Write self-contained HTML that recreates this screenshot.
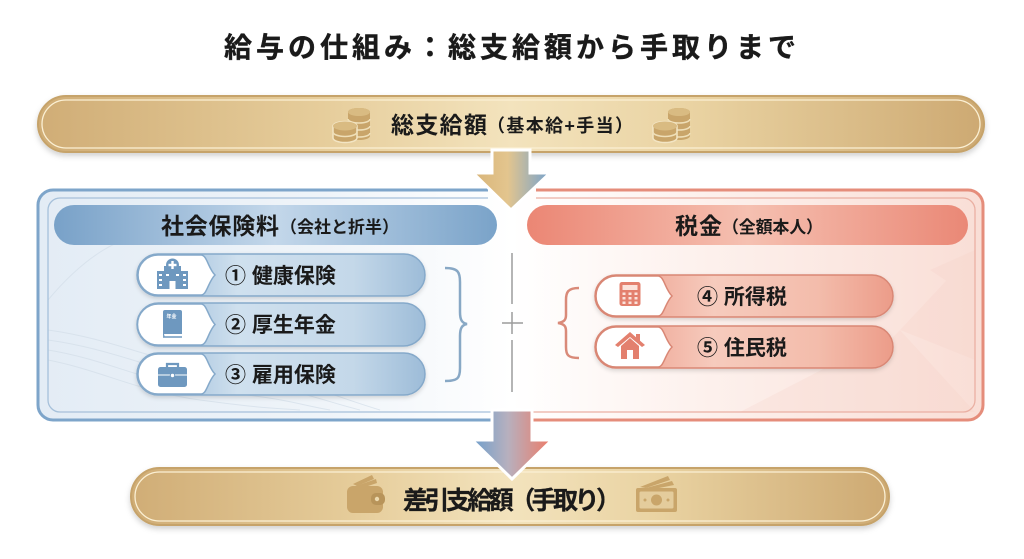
<!DOCTYPE html>
<html><head><meta charset="utf-8"><style>
html,body{margin:0;padding:0;background:#fff;width:1024px;height:559px;overflow:hidden}
svg{display:block}
text{font-family:"Liberation Sans","Noto Sans CJK JP",sans-serif;font-weight:bold;fill:#1a1a1a}
</style></head><body>
<svg width="1024" height="559" viewBox="0 0 1024 559" xmlns="http://www.w3.org/2000/svg">
<defs>
 <linearGradient id="gold" x1="0" x2="1" y1="0" y2="0">
  <stop offset="0" stop-color="#d0ad76"/><stop offset="0.3" stop-color="#e6cd9b"/><stop offset="0.5" stop-color="#f3e3bd"/><stop offset="0.7" stop-color="#e9d2a1"/><stop offset="1" stop-color="#cda972"/>
 </linearGradient>
 <linearGradient id="bluehead" x1="0" x2="1">
  <stop offset="0" stop-color="#78a1c8"/><stop offset="0.5" stop-color="#c3d7ea"/><stop offset="1" stop-color="#7aa3c9"/>
 </linearGradient>
 <linearGradient id="redhead" x1="0" x2="1">
  <stop offset="0" stop-color="#eb8674"/><stop offset="0.5" stop-color="#f5c0b1"/><stop offset="1" stop-color="#ea8876"/>
 </linearGradient>
 <linearGradient id="blueitem" x1="0" x2="1">
  <stop offset="0" stop-color="#8cb1d3"/><stop offset="0.35" stop-color="#cfe0ee"/><stop offset="0.75" stop-color="#c4d8e9"/><stop offset="1" stop-color="#9dbcd8"/>
 </linearGradient>
 <linearGradient id="reditem" x1="0" x2="1">
  <stop offset="0" stop-color="#ec9482"/><stop offset="0.4" stop-color="#f6cbbd"/><stop offset="0.75" stop-color="#f3bcab"/><stop offset="1" stop-color="#ec9c89"/>
 </linearGradient>
 <linearGradient id="leftbg" x1="0" x2="1">
  <stop offset="0" stop-color="#e3ecf5"/><stop offset="0.6" stop-color="#eff4f9"/><stop offset="1" stop-color="#ffffff"/>
 </linearGradient>
 <linearGradient id="rightbg" x1="0" x2="1">
  <stop offset="0" stop-color="#ffffff"/><stop offset="0.4" stop-color="#fdf1ed"/><stop offset="1" stop-color="#f9ded6"/>
 </linearGradient>
 <linearGradient id="arr1" x1="0" x2="1">
  <stop offset="0" stop-color="#d8b478"/><stop offset="0.45" stop-color="#e3c58e"/><stop offset="1" stop-color="#76a2cd"/>
 </linearGradient>
 <linearGradient id="arr2" x1="0" x2="1">
  <stop offset="0" stop-color="#6f9fcc"/><stop offset="0.45" stop-color="#b7b0be"/><stop offset="1" stop-color="#ee7a66"/>
 </linearGradient>
 <filter id="sh" x="-5%" y="-30%" width="110%" height="170%">
  <feDropShadow dx="0" dy="3" stdDeviation="3" flood-color="#000" flood-opacity="0.18"/>
 </filter>
 <filter id="sh2" x="-5%" y="-30%" width="110%" height="170%">
  <feDropShadow dx="0" dy="2" stdDeviation="2" flood-color="#000" flood-opacity="0.15"/>
 </filter>
 <g id="coins">
  <path d="M15 5 a11 4 0 0 1 22 0 v24 a11 4 0 0 1 -22 0 z" fill="#c9a56a"/>
  <path d="M15 12 a11 4 0 0 0 22 0 M15 19 a11 4 0 0 0 22 0 M15 26 a11 4 0 0 0 22 0" stroke="#efdfb8" stroke-width="1.6" fill="none"/>
  <ellipse cx="26" cy="5" rx="11" ry="4" fill="#d9bb82"/>
  <path d="M0 19 a12 4.5 0 0 1 24 0 v12 a12 4.5 0 0 1 -24 0 z" fill="#c9a56a" stroke="#f3e5c4" stroke-width="1.5"/>
  <path d="M0 25 a12 4.5 0 0 0 24 0" stroke="#efdfb8" stroke-width="1.6" fill="none"/>
  <ellipse cx="12" cy="19" rx="12" ry="4.5" fill="#d9bb82"/>
 </g>
</defs>

<!-- Title -->
<text x="224" y="57" font-size="28" textLength="572" stroke="#1a1a1a" stroke-width="0.4">給与の仕組み：総支給額から手取りまで</text>

<!-- Top gold bar -->
<rect x="38" y="96" width="946" height="56" rx="28" fill="url(#gold)" stroke="#c6a36a" stroke-width="2" filter="url(#sh)"/>
<rect x="42" y="100" width="938" height="48" rx="24" fill="none" stroke="#fbf0d4" stroke-width="1.3"/>
<use href="#coins" x="333" y="107"/>
<use href="#coins" x="653" y="107"/>
<text x="391" y="133" font-size="23" textLength="96">総支給額</text>
<text x="487" y="132" font-size="18" textLength="146">（基本給+手当）</text>

<!-- Panels background -->
<path d="M512 190 H53 A15 15 0 0 0 38 205 V405 A15 15 0 0 0 53 420 H512 Z" fill="url(#leftbg)"/>
<path d="M512 190 H968 A15 15 0 0 1 983 205 V405 A15 15 0 0 1 968 420 H512 Z" fill="url(#rightbg)"/>
<!-- faint waves left -->
<g fill="none" stroke="#d3dee9" stroke-width="1" opacity="0.7">
 <path d="M48 330 C120 340 160 365 230 372 S330 395 380 410"/>
 <path d="M48 340 C120 350 160 375 230 382 S320 400 360 410"/>
 <path d="M48 350 C110 360 150 385 220 392 S300 405 330 410"/>
 <path d="M48 360 C100 370 140 392 200 400 S270 408 300 410"/>
 <path d="M48 300 C90 250 120 240 150 230"/>
</g>
<!-- facets right -->
<g fill="#f6cfc4" opacity="0.22">
 <polygon points="975,250 900,330 975,360"/>
 <polygon points="900,330 820,412 975,412"/>
 <polygon points="740,412 860,350 900,412"/>
 <polygon points="930,270 975,300 975,250"/>
</g>

<!-- Panel borders -->
<path d="M488 190 H53 A15 15 0 0 0 38 205 V405 A15 15 0 0 0 53 420 H492" fill="none" stroke="#7ea5ca" stroke-width="3"/>
<path d="M488 198 H60 A12 12 0 0 0 48 210 V400 A12 12 0 0 0 60 412 H492" fill="none" stroke="#a6c0da" stroke-width="1.3"/>
<path d="M536 190 H968 A15 15 0 0 1 983 205 V405 A15 15 0 0 1 968 420 H532" fill="none" stroke="#e58d7b" stroke-width="3"/>
<path d="M536 198 H963 A12 12 0 0 1 975 210 V400 A12 12 0 0 1 963 412 H532" fill="none" stroke="#eab0a3" stroke-width="1.3"/>

<!-- Headers -->
<rect x="54" y="205" width="443" height="40" rx="20" fill="url(#bluehead)"/>
<text x="161" y="234" font-size="23" textLength="118">社会保険料</text>
<text x="280" y="233" font-size="17" textLength="119">（会社と折半）</text>
<rect x="527" y="205" width="441" height="40" rx="20" fill="url(#redhead)"/>
<text x="675" y="234" font-size="23" textLength="47">税金</text>
<text x="722" y="233" font-size="17" textLength="101">（全額本人）</text>

<!-- Arrow 1 -->
<polygon points="492,150 530,150 530,173 550,173 511,210 473,173 492,173" fill="url(#arr1)" stroke="#fff" stroke-width="3" stroke-linejoin="miter"/>

<!-- Center divider -->
<g stroke="#9c9c9c" stroke-width="1.5">
 <line x1="512" y1="253" x2="512" y2="304"/>
 <line x1="512" y1="312" x2="512" y2="334"/>
 <line x1="502" y1="323" x2="523" y2="323"/>
 <line x1="512" y1="340" x2="512" y2="392"/>
</g>

<!-- Blue items -->
<g filter="url(#sh2)">
 <rect x="137" y="254" width="288" height="42" rx="21" fill="url(#blueitem)" stroke="#85a9ca" stroke-width="1.5"/>
 <rect x="137" y="303" width="288" height="43" rx="21.5" fill="url(#blueitem)" stroke="#85a9ca" stroke-width="1.5"/>
 <rect x="137" y="353" width="288" height="42" rx="21" fill="url(#blueitem)" stroke="#85a9ca" stroke-width="1.5"/>
</g>
<g fill="#fff" stroke="#85a9ca" stroke-width="1.5">
 <path d="M158 255 H201 C207 255 208 268 215 275 C208 282 207 295 201 295 H158 A20 20 0 0 1 158 255 Z"/>
 <path d="M158 304 H201 C207 304 208 317 215 324.5 C208 332 207 345 201 345 H158 A20.5 20.5 0 0 1 158 304 Z"/>
 <path d="M158 354 H201 C207 354 208 367 215 374 C208 381 207 394 201 394 H158 A20 20 0 0 1 158 354 Z"/>
</g>
<!-- hospital -->
<g fill="#6e98bf">
 <rect x="164" y="266" width="17" height="23"/>
 <rect x="157" y="271" width="8" height="18"/>
 <rect x="180" y="271" width="8" height="18"/>
 <circle cx="172.5" cy="265" r="6.5"/>
</g>
<g fill="#fff">
 <rect x="171.3" y="261" width="2.4" height="8"/><rect x="168.5" y="263.8" width="8" height="2.4"/>
 <rect x="169.5" y="281" width="6" height="8"/>
 <rect x="159" y="274" width="3" height="2"/><rect x="159" y="279" width="3" height="2"/><rect x="159" y="284" width="3" height="2"/>
 <rect x="183" y="274" width="3" height="2"/><rect x="183" y="279" width="3" height="2"/><rect x="183" y="284" width="3" height="2"/>
 <rect x="166" y="274" width="3" height="2"/><rect x="176" y="274" width="3" height="2"/>
</g>
<!-- book -->
<g>
 <rect x="163" y="310" width="19" height="27" rx="2" fill="#6e98bf"/>
 <path d="M164 334 H182 V338 H165 Z" fill="#fff"/>
 <path d="M163 337 H182" stroke="#6e98bf" stroke-width="1.5"/>
 <text x="166.5" y="318" font-size="5" style="fill:#fff">年金</text>
</g>
<!-- briefcase -->
<g>
 <path d="M167 367 V364 H178 V367" fill="none" stroke="#6e98bf" stroke-width="2.2"/>
 <rect x="158" y="367" width="29" height="20" rx="2.5" fill="#6e98bf"/>
 <path d="M158 375 H187" stroke="#fff" stroke-width="1"/>
 <circle cx="172.5" cy="375.5" r="2.2" fill="#fff" stroke="#6e98bf" stroke-width="1"/>
</g>
<text x="225" y="283" font-size="21">① 健康保険</text>
<text x="225" y="332" font-size="21">② 厚生年金</text>
<text x="225" y="382" font-size="21">③ 雇用保険</text>

<!-- Blue brace -->
<path d="M445 268 C458 268 460 272 460 282 V312 C460 320 462 323 467 324 C462 325 460 328 460 336 V368 C460 378 458 381 445 381" fill="none" stroke="#88a8c5" stroke-width="2.5"/>

<!-- Red items -->
<g filter="url(#sh2)">
 <rect x="595" y="275" width="298" height="42" rx="21" fill="url(#reditem)" stroke="#d98775" stroke-width="1.5"/>
 <rect x="595" y="326" width="298" height="42" rx="21" fill="url(#reditem)" stroke="#d98775" stroke-width="1.5"/>
</g>
<g fill="#fff" stroke="#d98775" stroke-width="1.5">
 <path d="M616 276 H658 C664 276 665 289 672 296 C665 303 664 316 658 316 H616 A20 20 0 0 1 616 276 Z"/>
 <path d="M616 327 H658 C664 327 665 340 672 347 C665 354 664 367 658 367 H616 A20 20 0 0 1 616 327 Z"/>
</g>
<!-- calculator -->
<g>
 <rect x="619.5" y="282" width="21" height="24" rx="2.5" fill="#e3806e"/>
 <rect x="622.5" y="285" width="15" height="5" fill="#fbe3dc"/>
 <g fill="#fbe3dc">
  <rect x="622.5" y="292.5" width="3" height="2.5"/><rect x="628.5" y="292.5" width="3" height="2.5"/><rect x="634.5" y="292.5" width="3" height="2.5"/>
  <rect x="622.5" y="297" width="3" height="2.5"/><rect x="628.5" y="297" width="3" height="2.5"/><rect x="634.5" y="297" width="3" height="2.5"/>
  <rect x="622.5" y="301.5" width="3" height="2.5"/><rect x="628.5" y="301.5" width="3" height="2.5"/><rect x="634.5" y="301.5" width="3" height="2.5"/>
 </g>
</g>
<!-- house -->
<g fill="#e3806e">
 <rect x="636" y="334" width="4" height="8"/>
 <polygon points="630,332 645,345 642,347 630,337 618,347 615,345"/>
 <polygon points="621,346 630,338 639,346 639,359 621,359"/>
</g>
<rect x="627" y="350" width="6" height="9" fill="#fff"/>
<text x="697" y="304" font-size="21">④ 所得税</text>
<text x="697" y="355" font-size="21">⑤ 住民税</text>

<!-- Red brace -->
<path d="M579 288 C568 288 566 292 566 300 V315 C566 320 564 322 558 323 C564 324 566 326 566 331 V347 C566 355 568 358 579 358" fill="none" stroke="#d98a79" stroke-width="2.5"/>

<!-- Bottom gold bar -->
<rect x="131" y="468" width="758" height="57" rx="28.5" fill="url(#gold)" stroke="#c6a36a" stroke-width="2" filter="url(#sh)"/>
<rect x="135" y="472" width="750" height="49" rx="24.5" fill="none" stroke="#fbf0d4" stroke-width="1.3"/>
<!-- wallet -->
<g>
 <path d="M353 484 L372 475 L374 479 L357 486 Z" fill="#c9a56a"/>
 <path d="M356 486 L376 479 L377 483 L362 488 Z" fill="#c9a56a"/>
 <rect x="347" y="486" width="36" height="27" rx="6" fill="#c9a56a"/>
 <rect x="371" y="493" width="14" height="12" rx="5" fill="#b8945a"/>
 <circle cx="377" cy="499" r="2.2" fill="#ecd9ae"/>
</g>
<!-- money -->
<g>
 <path d="M640 487 L668 476 L670 480 L646 488 Z" fill="#c9a56a"/>
 <path d="M646 488 L672 481 L674 485 L654 489 Z" fill="#c9a56a"/>
 <rect x="636" y="488" width="41" height="24" rx="2" fill="#c9a56a"/>
 <rect x="639.5" y="491.5" width="34" height="17" rx="1.5" fill="#e4cc9c"/>
 <circle cx="656.5" cy="500" r="5.5" fill="#c9a56a"/>
 <circle cx="645" cy="500" r="1.5" fill="#c9a56a"/><circle cx="668" cy="500" r="1.5" fill="#c9a56a"/>
</g>
<text x="403" y="509" font-size="25" textLength="218" stroke="#1a1a1a" stroke-width="0.3">差引支給額（手取り）</text>

<!-- Arrow 2 -->
<polygon points="492,410 532,410 532,440 552,440 512,479 472,440 492,440" fill="url(#arr2)" stroke="#fff" stroke-width="3" stroke-linejoin="miter"/>
</svg>
</body></html>
